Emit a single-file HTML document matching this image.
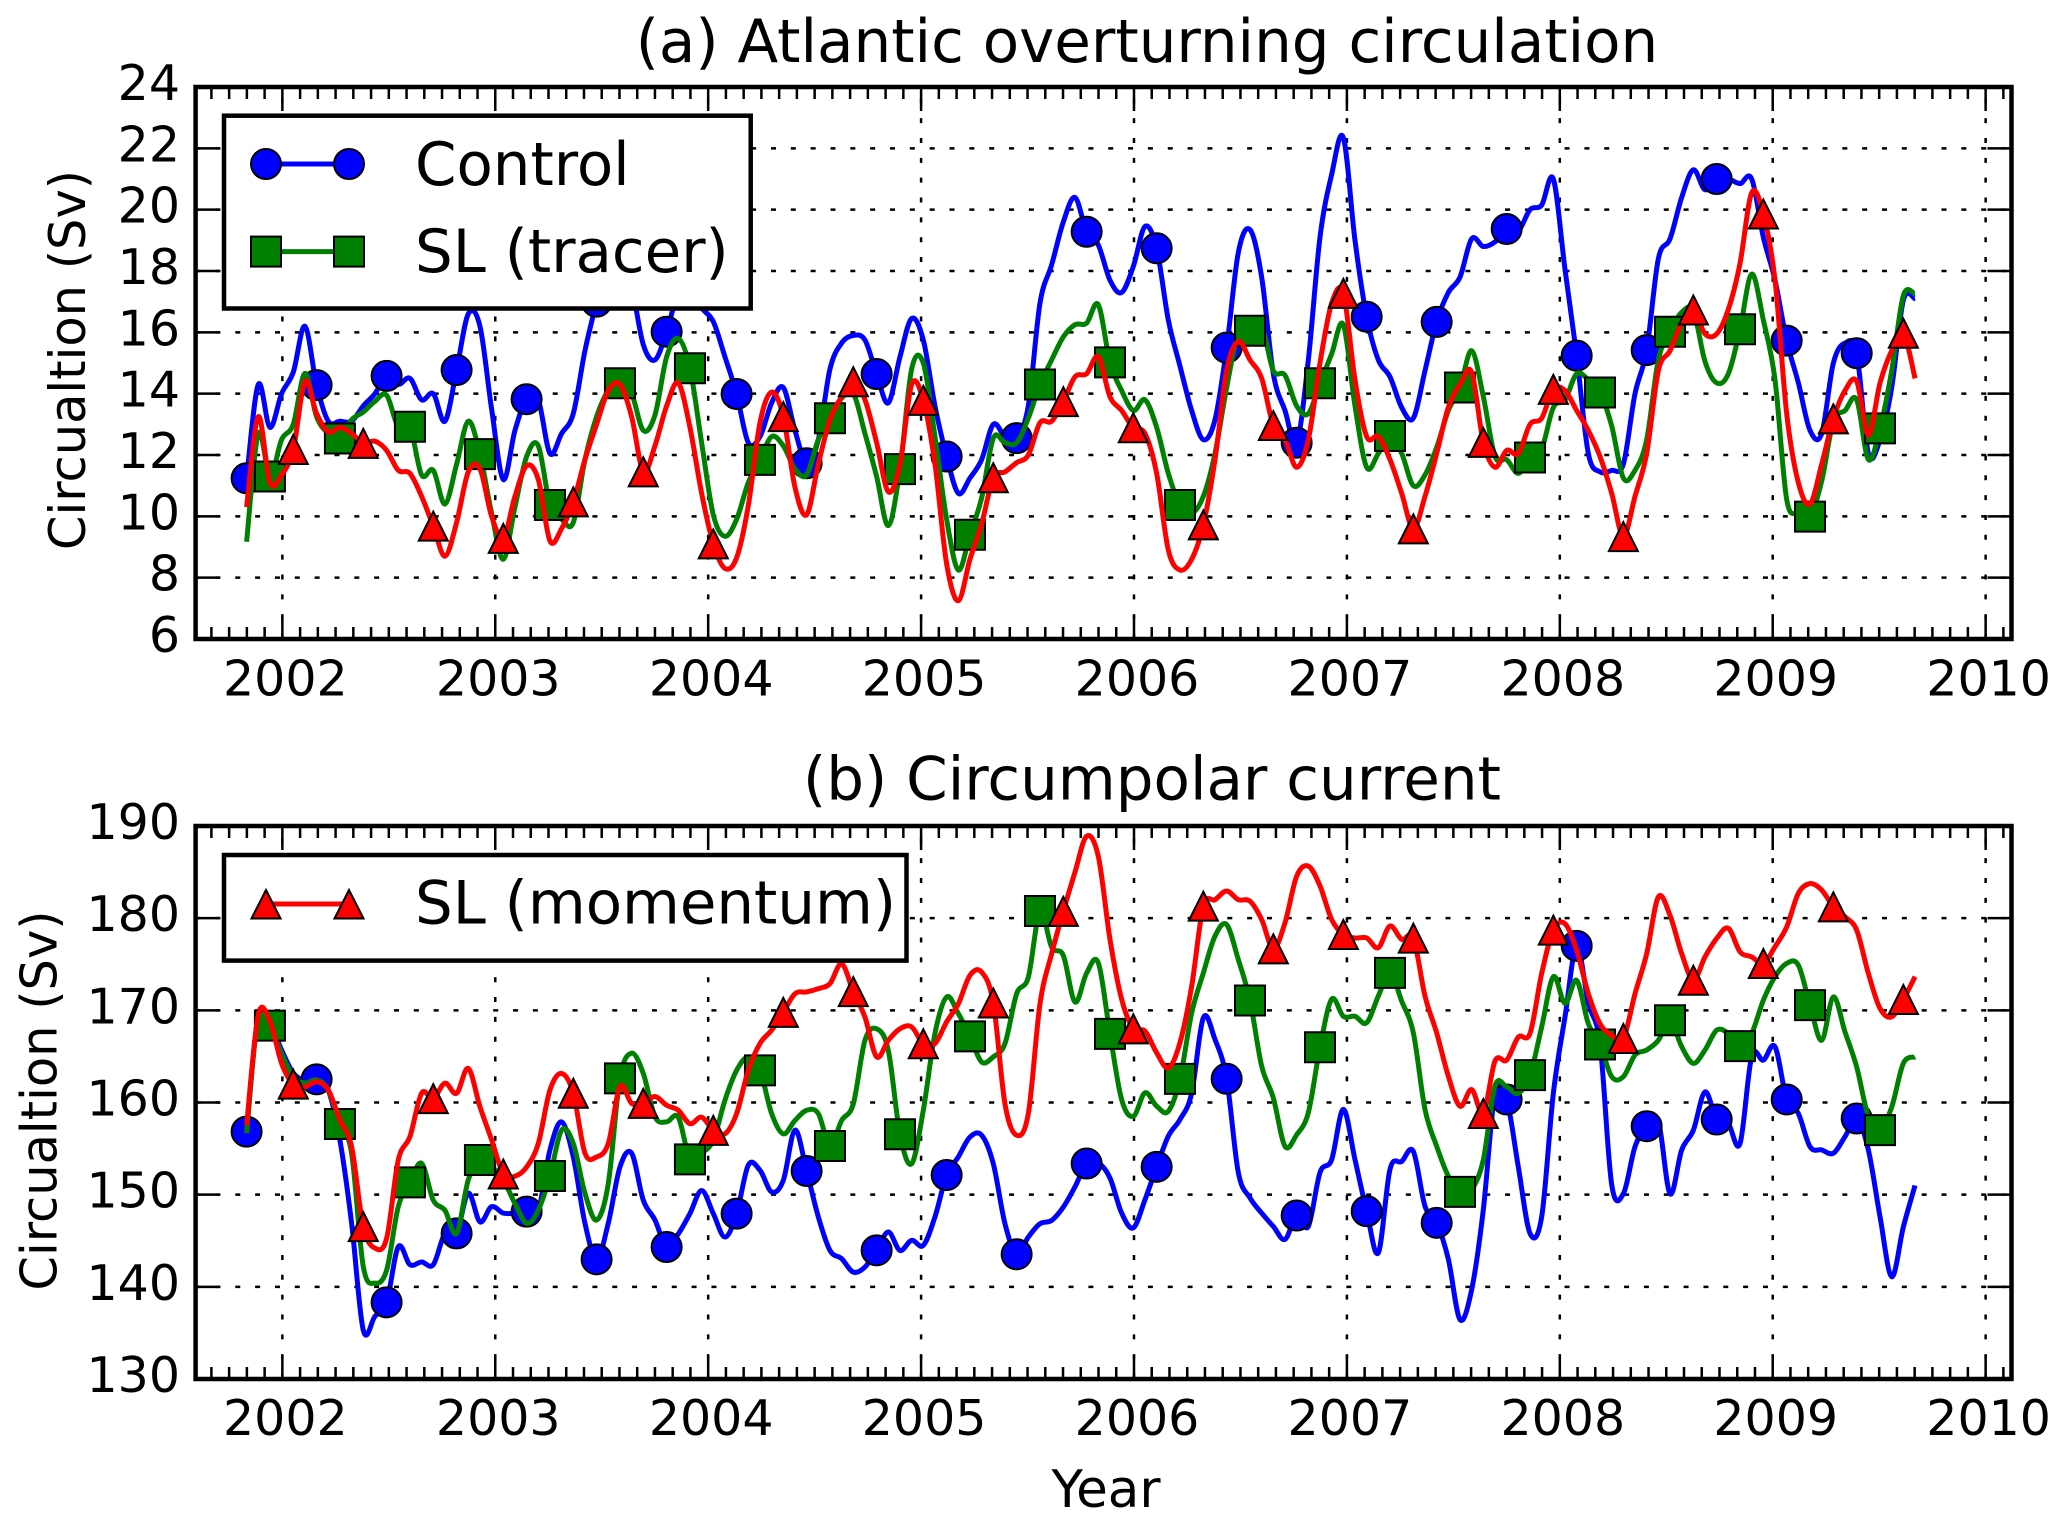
<!DOCTYPE html>
<html lang="en">
<head>
<meta charset="utf-8">
<title>Atlantic overturning and circumpolar current</title>
<style>
html,body{margin:0;padding:0;background:#fff}
svg{display:block}
text{font-family:"DejaVu Sans","Liberation Sans",sans-serif;fill:#000}
</style>
</head>
<body>
<svg id="figure" xmlns="http://www.w3.org/2000/svg" width="2067" height="1527" viewBox="0 0 2067 1527">
  <defs>
    <clipPath id="clip-a"><rect x="195.6" y="87" width="1815.9" height="552"/></clipPath>
    <clipPath id="clip-b"><rect x="195.6" y="826" width="1815.9" height="553"/></clipPath>
  </defs>
  <rect x="0" y="0" width="2067" height="1527" fill="#fff"/>

  <text x="1147" y="62" font-size="59.5" text-anchor="middle">(a) Atlantic overturning circulation</text>
  <text x="1152" y="799.5" font-size="59.5" text-anchor="middle">(b) Circumpolar current</text>
  <text transform="translate(85 360) rotate(-90)" font-size="49.5" text-anchor="middle">Circualtion (Sv)</text>
  <text transform="translate(56.5 1100.5) rotate(-90)" font-size="49.5" text-anchor="middle">Circualtion (Sv)</text>
  <text x="1106" y="1507" font-size="51.5" text-anchor="middle">Year</text>

  <g id="panel-a"></g>
  <g id="panel-b"></g>

  <g>
    <rect x="224" y="115.7" width="526.7" height="192.8" fill="#fff" stroke="#000" stroke-width="4.5"/>
    <g>
      <line x1="266" y1="164" x2="349" y2="164" stroke="#0000ff" stroke-width="5"/>
      <circle cx="266" cy="164" r="15" fill="#0000ff" stroke="#000" stroke-width="2"/>
      <circle cx="349" cy="164" r="15" fill="#0000ff" stroke="#000" stroke-width="2"/>
      <text x="415" y="185" font-size="59.4">Control</text>
    </g>
    <g>
      <line x1="266" y1="251.6" x2="349" y2="251.6" stroke="#008000" stroke-width="5"/>
      <rect x="251" y="236.6" width="30" height="30" fill="#008000" stroke="#000" stroke-width="2"/>
      <rect x="334" y="236.6" width="30" height="30" fill="#008000" stroke="#000" stroke-width="2"/>
      <text x="415" y="271.8" font-size="59.4">SL (tracer)</text>
    </g>
  </g>
  <g>
    <rect x="224" y="855" width="682.5" height="105.6" fill="#fff" stroke="#000" stroke-width="4.5"/>
    <g>
      <line x1="266" y1="904" x2="349" y2="904" stroke="#ff0000" stroke-width="5"/>
      <polygon points="266,890 251.5,918.5 280.5,918.5" fill="#ff0000" stroke="#000" stroke-width="2"/>
      <polygon points="349,890 334.5,918.5 363.5,918.5" fill="#ff0000" stroke="#000" stroke-width="2"/>
      <text x="415" y="923.4" font-size="59.4">SL (momentum)</text>
    </g>
  </g>
</svg>
<script>
// Time axis
const firstSampleYear = 2001.832;
const sampleStepYears = 0.0548; // 20-day samples
const yearTicks = [2002, 2003, 2004, 2005, 2006, 2007, 2008, 2009, 2010];
const yearTickLabels = ["2002", "2003", "2004", "2005", "2006", "2007", "2008", "2009", "2010"];
const minorTickMonths = 12;

// Panel (a) y ticks
const ticksA = [6, 8, 10, 12, 14, 16, 18, 20, 22, 24];
const tickLabelsA = ["6", "8", "10", "12", "14", "16", "18", "20", "22", "24"];
// Panel (b) y ticks
const ticksB = [130, 140, 150, 160, 170, 180, 190];
const tickLabelsB = ["130", "140", "150", "160", "170", "180", "190"];

// Panel (a) values (Sv)
const controlA = [
11.24,14.3,12.9,14.0,14.7,16.2,14.28,13.1,13.1,13.1,13.6,14.0,14.58,14.3,14.5,13.8,14.0,13.1,14.77,16.6,16.2,13.5,11.2,12.8,13.82,13.8,12.05,12.7,13.35,15.4,17.0,18.5,18.5,17.5,15.6,15.1,
16.02,17.3,17.5,16.8,16.35,15.2,13.99,12.4,12.6,13.7,14.2,12.8,11.73,12.5,14.8,15.65,15.9,15.75,14.64,13.7,15.2,16.45,15.75,13.6,11.95,10.75,11.25,11.85,13.0,12.6,12.55,13.6,16.95,18.2,19.6,20.4,
19.28,18.85,17.7,17.3,18.15,19.45,18.74,16.4,14.9,13.45,12.5,13.15,15.5,18.6,19.35,17.8,14.65,13.45,12.4,15.1,19.1,21.15,22.35,19.0,16.51,15.1,14.55,13.55,13.2,14.75,16.34,17.3,17.8,19.05,18.8,18.95,
19.37,19.3,20.0,20.15,21.0,18.05,15.24,12.05,11.45,11.5,11.7,14.0,15.42,18.4,19.05,20.4,21.3,20.65,21.0,21.0,20.85,21.0,19.1,17.7,15.73,14.35,12.8,12.7,15.0,15.65,15.32,12.05,12.5,14.2,17.05,17.1
];
const tracerA = [
9.17,12.7,11.3,12.5,13.0,14.66,13.25,12.7,12.54,13.15,13.4,13.75,13.95,12.9,12.92,11.35,11.5,10.4,11.7,13.1,12.03,10.1,8.6,10.3,11.95,12.3,10.37,9.9,9.8,11.85,13.25,14.1,14.34,14.0,12.8,13.3,
15.2,15.8,14.83,12.4,10.05,9.35,9.9,11.1,11.84,12.6,12.3,11.55,11.35,12.5,13.2,13.85,14.0,12.7,11.3,9.7,11.54,14.8,15.0,12.6,9.9,8.25,9.4,10.6,12.55,12.4,12.4,13.2,14.3,15.1,15.85,16.25,
16.3,16.9,15.02,14.1,13.45,13.8,12.9,11.4,10.37,10.1,10.65,12.05,14.2,15.95,16.05,16.2,14.75,14.6,13.6,13.35,14.34,15.3,16.25,13.6,11.6,12.05,12.62,12.05,11.0,11.35,12.25,13.45,14.2,15.4,13.9,11.95,
11.85,11.4,11.92,12.2,13.55,13.8,14.65,14.45,14.04,12.95,11.25,11.5,12.5,15.1,16.02,16.65,16.7,15.05,14.35,14.65,16.1,17.9,16.4,14.45,10.55,10.1,9.99,11.15,13.1,13.45,13.8,11.85,12.87,14.75,17.2,17.25
];
const momentumA = [
10.3,13.25,11.1,11.35,12.18,14.4,13.35,12.75,12.9,12.7,12.38,12.45,12.15,11.5,11.4,10.65,9.68,8.7,9.8,11.45,11.55,10.0,9.28,10.65,11.65,11.2,9.2,9.6,10.47,11.85,13.0,14.1,14.3,13.25,11.45,12.3,
13.6,14.35,12.9,10.75,9.1,8.3,8.65,10.35,13.05,14.05,13.25,10.95,10.05,11.7,13.15,13.9,14.39,13.8,12.4,10.8,11.7,14.3,13.78,11.7,8.45,7.25,8.6,9.75,11.26,11.45,11.75,12.0,13.05,13.1,13.74,14.55,
14.65,15.2,13.9,13.45,12.89,12.7,11.4,8.9,8.25,8.6,9.72,11.85,14.75,15.7,15.1,14.5,12.96,12.5,11.6,12.5,15.0,16.95,17.27,14.45,12.6,12.6,11.85,10.75,9.59,10.65,12.05,13.55,14.3,14.7,12.41,11.6,
12.15,12.05,13.0,13.2,14.14,14.1,13.45,12.8,11.95,10.75,9.34,10.65,12.05,14.75,15.4,16.3,16.73,15.95,15.95,16.75,18.25,20.55,19.86,17.7,13.35,11.1,10.4,11.7,13.18,14.1,14.4,12.65,14.35,15.4,15.97,14.5
];

// Panel (b) values (Sv)
const controlB = [
156.84,169.5,168.6,165.7,163.2,162.4,162.51,161.35,155.9,146.9,135.3,136.8,138.32,144.35,142.4,142.7,142.4,145.8,145.8,150.15,147.05,148.7,148,148,148.16,148.3,154.85,157.9,154.1,146.9,142.98,146.9,153,154.5,149.4,147.25,
144.32,145.75,147.95,150.45,147.95,145.4,147.94,153.2,152.65,150.3,151.55,157,152.57,147.6,143.95,143.05,141.6,142.15,143.96,145.95,143.95,145.05,144.5,147.6,152.13,154.1,156.25,156.45,153.35,146.85,143.53,145.4,146.85,147.2,148.65,150.85,
153.38,153.45,151.8,148,146.4,149.45,153.02,156.35,158.15,161,169.2,166.85,162.57,152.4,149.65,148,146.55,145.15,147.74,146.55,152.4,153.8,159.25,153.8,148.21,143.7,152.75,153.6,154.7,148.75,146.94,143,136.45,139.7,148.4,161,
160.33,153,145.8,147.6,161,169.3,177,170.75,166.4,151.1,150.1,155.2,157.43,158,150.1,154.85,157,161.15,158.15,157.7,155.55,165,164.6,166.05,160.33,158.8,155.2,154.85,154.5,156.3,158.26,154.85,147.6,141.1,146.5,151
];
const tracerB = [
156.65,169.5,168.34,165.3,162.8,162.1,162.45,161.35,157.67,154.5,142.2,140.4,141.8,148.7,151.34,153.4,149.4,148.3,145.8,151.6,153.76,153.05,151.6,149.05,146.9,148.3,152.03,157,155.55,150.15,147.25,151.2,162.62,165.35,163.15,158.45,
157.9,158.4,153.83,154.5,155.9,160.25,163.49,164.95,163.49,158.8,156.6,158.05,159.15,158.8,155.28,158.05,159.85,166.75,168,165.65,156.55,153.35,159.15,167.5,171.45,169.65,167.18,164.4,164.95,166.4,171.8,173.6,180.78,176.85,175.95,170.9,
174.05,175.15,167.45,160.3,158.5,161.05,159.6,159.05,162.57,169.7,174.05,178.05,179.3,175.5,171.07,163.95,160.5,155.25,156.5,158.9,166,171.2,169.35,169.35,168.65,171.55,174.07,171,167.55,159.25,155.25,152,150.3,150.55,153.8,161.8,
161.7,161,162.97,168.2,173.65,170.75,173.25,168.55,166.29,162.8,162.8,165.15,165.7,166.75,168.93,166.05,164.25,165.7,167.85,167.5,166.11,167.5,171.1,173.65,175.1,174.9,170.56,166.75,171.45,167.65,163.85,158.45,157,159.5,164.25,164.95
];
const momentumB = [
157.5,169.5,168.8,164.25,162.0,161.7,162.25,161.35,158.1,155.2,146.53,144.2,145.25,153.75,156.3,161,160.42,162.1,161,163.7,159.55,155.95,152.24,152,153,155.55,161.35,163.15,161,154.5,154.1,155.55,161.7,159.9,159.91,160.65,
159.7,159.15,157.7,158.4,156.98,156.6,158.8,163.5,166.4,167.85,169.78,171.8,172,172.35,172.9,175.05,172.03,169.25,164.95,166.75,168,168.2,166.38,166.4,168.75,170.7,173.8,174.15,170.8,159.85,156.45,158.8,170.7,176.15,180.74,185,
188.9,186.7,177.7,171.2,167.99,167.75,165.4,163.75,166.5,172.6,181.3,182,182.95,182,181.85,179.85,176.67,179.5,184.55,185.65,183.5,179.85,178.23,177.85,177.85,176.8,179.15,177.7,177.83,171.55,167.55,162.85,159.6,161.4,158.81,164.5,
164.6,167.1,167.5,174,178.7,179.4,176.5,171.8,168.55,167.3,166.94,171.8,176.15,182.3,180.3,176.15,173.27,175.8,177.8,178.9,176.35,175.8,175.08,176.9,179.05,182.7,183.75,183.05,181.23,180.15,178.7,174,170.2,169.3,171.18,173.65
];

const SVG_NS = "http://www.w3.org/2000/svg";
const plotLeft = 195.6, plotRight = 2011.5;
const xStartYear = 2001.5925, xEndYear = 2010.1215;

function xScale(year) {
  return plotLeft + (year - xStartYear) / (xEndYear - xStartYear) * (plotRight - plotLeft);
}
function yScaleFor(top, bottom, minV, maxV) {
  return function (v) { return bottom - (v - minV) / (maxV - minV) * (bottom - top); };
}
function make(parent, tag, attrs) {
  const el = document.createElementNS(SVG_NS, tag);
  for (const k in attrs) el.setAttribute(k, attrs[k]);
  parent.appendChild(el);
  return el;
}
function markerPath(shape, cx, cy) {
  const h = 15, t = 14.5;
  if (shape === "square") return "M" + (cx - h) + " " + (cy - h) + "h" + (2 * h) + "v" + (2 * h) + "h" + (-2 * h) + "z";
  return "M" + cx + " " + (cy - t) + "L" + (cx - t) + " " + (cy + t) + "L" + (cx + t) + " " + (cy + t) + "z";
}
// Catmull-Rom curve through the data points
function smoothPath(pts) {
  let d = "M" + pts[0][0].toFixed(2) + " " + pts[0][1].toFixed(2);
  for (let i = 0; i < pts.length - 1; i++) {
    const p0 = pts[Math.max(i - 1, 0)], p1 = pts[i], p2 = pts[i + 1], p3 = pts[Math.min(i + 2, pts.length - 1)];
    const c1x = p1[0] + (p2[0] - p0[0]) / 6, c1y = p1[1] + (p2[1] - p0[1]) / 6;
    const c2x = p2[0] - (p3[0] - p1[0]) / 6, c2y = p2[1] - (p3[1] - p1[1]) / 6;
    d += "C" + c1x.toFixed(2) + " " + c1y.toFixed(2) + " " + c2x.toFixed(2) + " " + c2y.toFixed(2) + " " + p2[0].toFixed(2) + " " + p2[1].toFixed(2);
  }
  return d;
}

function drawSeries(group, clipId, values, color, shape, offset, yScale, seriesName) {
  const g = make(group, "g", { "clip-path": "url(#" + clipId + ")" });
  
  
  const pts = values.map(function (v, i) {
    return [xScale(firstSampleYear + i * sampleStepYears), yScale(v)];
  });
  const line = make(g, "path", { d: smoothPath(pts), fill: "none", stroke: color, "stroke-width": 5, "stroke-linejoin": "round" });
  
  
  for (let i = offset; i < values.length; i += 6) {
    const cx = xScale(firstSampleYear + i * sampleStepYears);
    const cy = yScale(values[i]);
    let m;
    if (shape === "circle") {
      m = make(g, "circle", { cx: cx.toFixed(2), cy: cy.toFixed(2), r: 15, fill: color, stroke: "#000", "stroke-width": 2 });
    } else {
      m = make(g, "path", { d: markerPath(shape, cx, cy), fill: color, stroke: "#000", "stroke-width": 2 });
    }
    
    
  }
}

function drawPanel(groupId, clipId, top, bottom, minV, maxV, yTicks, yLabels, series, labelBaseline) {
  const group = document.getElementById(groupId);
  const yScale = yScaleFor(top, bottom, minV, maxV);

  yTicks.forEach(function (v) {
    const y = yScale(v);
    const grid = make(group, "line", { x1: plotLeft, x2: plotRight, y1: y, y2: y, stroke: "#000", "stroke-width": 2.5, "stroke-dasharray": "5 14.84" });
    
    
  });
  yearTicks.forEach(function (yr) {
    const x = xScale(yr);
    const grid = make(group, "line", { x1: x, x2: x, y1: bottom, y2: top, stroke: "#000", "stroke-width": 2.5, "stroke-dasharray": "5 14.84" });
    
    
  });

  series.forEach(function (s) {
    drawSeries(group, clipId, s.values, s.color, s.shape, s.offset, yScale, s.name);
  });

  // minor ticks, one per month
  const firstYear = yearTicks[0], lastYear = yearTicks[yearTicks.length - 1];
  for (let m = -4; m <= (lastYear - firstYear) * minorTickMonths + 1; m++) {
    if (m % minorTickMonths === 0) continue;
    const x = xScale(firstYear + m / minorTickMonths);
    const tb = make(group, "path", { d: "M" + x + " " + bottom + "v-12M" + x + " " + top + "v12", stroke: "#000", "stroke-width": 2.5, fill: "none" });
    
    
  }
  // major x ticks and labels
  yearTicks.forEach(function (yr, i) {
    const x = xScale(yr);
    const tk = make(group, "path", { d: "M" + x + " " + bottom + "v-24M" + x + " " + top + "v24", stroke: "#000", "stroke-width": 2.5, fill: "none" });
    
    
    const t = make(group, "text", { x: x + 3, y: labelBaseline, "font-size": 49, "text-anchor": "middle" });
    
    
    t.textContent = yearTickLabels[i];
  });
  // y ticks and labels
  yTicks.forEach(function (v, i) {
    const y = yScale(v);
    const tk = make(group, "path", { d: "M" + plotLeft + " " + y + "h24M" + plotRight + " " + y + "h-24", stroke: "#000", "stroke-width": 2.5, fill: "none" });
    
    
    const t = make(group, "text", { x: 180, y: y + 13, "font-size": 49, "text-anchor": "end" });
    
    
    t.textContent = yLabels[i];
  });
  const frame = make(group, "rect", { x: plotLeft, y: top, width: plotRight - plotLeft, height: bottom - top, fill: "none", stroke: "#000", "stroke-width": 4.5 });
  
  
}

drawPanel("panel-a", "clip-a", 87, 639, 6, 24, ticksA, tickLabelsA, [
  { values: controlA, color: "#0000ff", shape: "circle", offset: 0, name: "control-series" },
  { values: tracerA, color: "#008000", shape: "square", offset: 2, name: "sl-tracer-series" },
  { values: momentumA, color: "#ff0000", shape: "triangle", offset: 4, name: "sl-momentum-series" }
], 695.6);
drawPanel("panel-b", "clip-b", 826, 1379, 130, 190, ticksB, tickLabelsB, [
  { values: controlB, color: "#0000ff", shape: "circle", offset: 0, name: "control-series" },
  { values: tracerB, color: "#008000", shape: "square", offset: 2, name: "sl-tracer-series" },
  { values: momentumB, color: "#ff0000", shape: "triangle", offset: 4, name: "sl-momentum-series" }
], 1435);
</script>
</body>
</html>
